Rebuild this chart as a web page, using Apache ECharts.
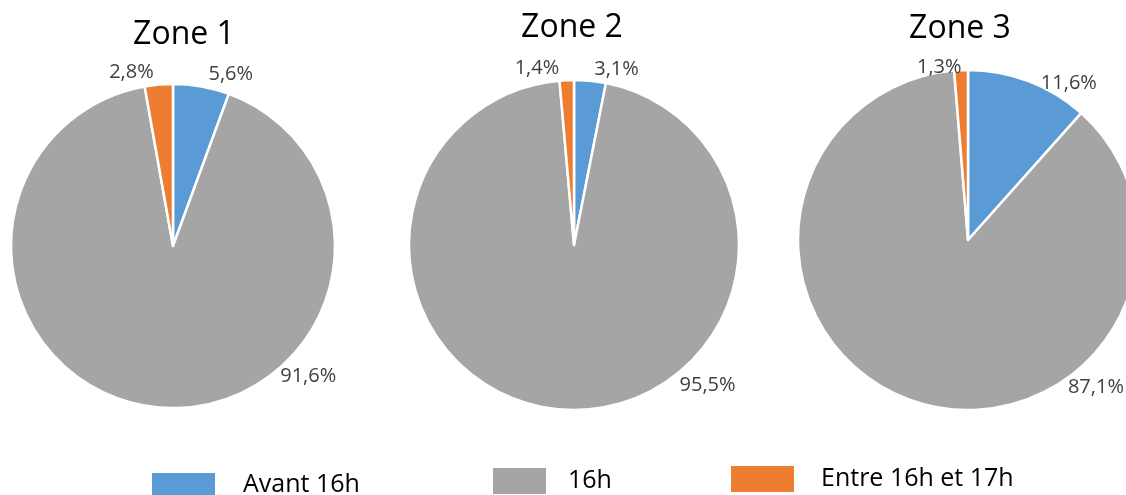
<!DOCTYPE html>
<html>
<head>
<meta charset="utf-8">
<script src="https://cdn.jsdelivr.net/npm/echarts@6/dist/echarts.min.js"></script>
<style>
html,body{margin:0;padding:0;background:#fff;}
#chart{width:1126px;height:495px;}
</style>
</head>
<body>
<div id="chart"></div>
<script>
// ---- data ----
const categories = ['Avant 16h', '16h', 'Entre 16h et 17h'];
const zoneTitles = ['Zone 1', 'Zone 2', 'Zone 3'];
const zone1 = [5.6, 91.6, 2.8];
const zone2 = [3.1, 95.5, 1.4];
const zone3 = [11.6, 87.1, 1.3];
const zones = [zone1, zone2, zone3];

// ---- layout / style ----
const colors = ['#5B9BD5', '#A5A5A5', '#ED7D31'];
const centers = [[173, 246], [574, 245], [968, 240]];
const radii = [162, 165, 170];
const titlePos = [[184, 35], [572, 28], [960, 29]];
const bigLabelAngle = [134, 136.5, 139];
const bigLabelDist = [26, 29, 25];
// small label nudges [dx, dy] for first and last slice of each pie
const smallLabelNudge = [[[0, 0], [1, 0]], [[-2, 0], [-2, 0]], [[3, 13], [6, 9]]];
const FONT = '"Open Sans", sans-serif';

const fmt = v => v.toFixed(1).replace('.', ',') + '%';

const chart = echarts.init(document.getElementById('chart'), null, {renderer: 'canvas'});

const series = zones.map((vals, zi) => ({
  type: 'pie',
  center: centers[zi],
  radius: radii[zi],
  startAngle: 90,
  clockwise: true,
  avoidLabelOverlap: false,
  animation: false,
  itemStyle: {borderColor: '#fff', borderWidth: 2.5},
  label: {
    show: true,
    position: 'outside',
    formatter: p => fmt(p.value),
    fontFamily: FONT,
    fontSize: 20,
    color: '#404040',
    distanceToLabelLine: 5
  },
  labelLine: {show: false, length: 12, length2: 0},
  labelLayout: function (params) {
    const si = params.seriesIndex;
    if (params.dataIndex !== 1) {
      const n = smallLabelNudge[si][params.dataIndex === 0 ? 0 : 1];
      return {dx: n[0], dy: n[1]};
    }
    const c = centers[si];
    const R = radii[si] + bigLabelDist[si];
    const a = bigLabelAngle[si] * Math.PI / 180;
    return {
      x: c[0] + Math.sin(a) * R,
      y: c[1] - Math.cos(a) * R,
      align: 'center',
      verticalAlign: 'middle'
    };
  },
  emphasis: {disabled: true},
  data: categories.map((name, i) => ({name: name, value: vals[i], itemStyle: {color: colors[i]}}))
}));

const legendSpecs = [
  {left: 150, top: 471, w: 65, h: 25, pad: 22},
  {left: 491, top: 466, w: 55, h: 28, pad: 16},
  {left: 729, top: 464, w: 65, h: 28, pad: 21}
];
const legends = categories.map((name, i) => ({
  data: [name],
  left: legendSpecs[i].left,
  top: legendSpecs[i].top,
  padding: 0,
  icon: 'rect',
  itemWidth: legendSpecs[i].w,
  itemHeight: legendSpecs[i].h,
  selectedMode: false,
  textStyle: {fontFamily: FONT, fontSize: 25, color: '#000', padding: [0, 0, 0, legendSpecs[i].pad]}
}));

const titles = zoneTitles.map((t, i) => ({
  text: t,
  left: titlePos[i][0],
  top: titlePos[i][1],
  textAlign: 'center',
  textVerticalAlign: 'middle',
  padding: 0,
  textStyle: {fontFamily: FONT, fontSize: 32, fontWeight: 'normal', color: '#000'}
}));

chart.setOption({
  backgroundColor: '#fff',
  animation: false,
  title: titles,
  legend: legends,
  series: series
});
</script>
</body>
</html>
